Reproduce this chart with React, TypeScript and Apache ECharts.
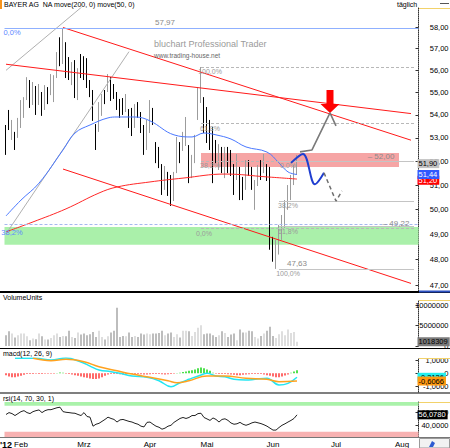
import React, { useEffect, useRef } from 'react';
import * as echarts from 'echarts';

const FONT = '"Liberation Sans", Arial, sans-serif';
const SLOTS = 138;
const categories: string[] = Array.from({ length: SLOTS }, (_, i) => String(i));
const monthStarts = [0, 5, 26, 48, 67, 89, 110, 132];
const monthNames = ["'12", 'Feb', 'Mrz', 'Apr', 'Mai', 'Jun', 'Jul', 'Aug'];

const priceTicks = [47, 48, 49, 50, 51, 52, 53, 54, 55, 56, 57, 58];
const volumeTicks = [0, 5000000, 10000000];
const macdTicks = [-1, 0, 1];
const rsiTicks = [40, 60];

// [open, close, low, high]
const candles: number[][] = [
  [53.43, 52.56, 52.27, 53.56], [54.09, 53.56, 53.34, 54.22], [53.04, 53.65, 52.91, 53.78], [53.13, 52.61, 52.48, 53.26],
  [53.26, 53.69, 53.0, 53.87], [53.56, 54.53, 53.43, 54.66], [54.0, 54.66, 53.87, 54.79], [54.79, 55.56, 54.66, 55.69],
  [55.42, 54.44, 54.31, 55.56], [54.57, 55.33, 54.44, 55.47], [55.11, 54.13, 54.0, 55.29], [54.57, 55.24, 54.44, 55.38],
  [54.88, 54.09, 53.96, 55.02], [54.31, 55.2, 54.22, 55.33], [55.11, 54.66, 54.48, 55.24], [55.02, 55.69, 54.88, 55.83],
  [54.66, 55.65, 54.57, 55.78], [55.78, 56.7, 55.65, 56.84], [57.39, 56.33, 56.19, 57.53], [56.38, 57.86, 56.29, 57.97],
  [57.16, 55.78, 55.65, 57.3], [56.38, 56.01, 55.56, 56.61], [55.47, 56.24, 55.33, 56.38], [56.24, 54.88, 54.75, 56.47],
  [54.79, 55.87, 54.66, 56.1], [56.61, 55.92, 55.65, 56.75], [56.47, 55.78, 55.56, 56.65], [56.38, 55.33, 55.2, 56.56],
  [55.42, 54.97, 54.79, 55.56], [54.97, 53.87, 53.74, 55.11], [53.43, 52.61, 52.48, 53.6], [53.43, 54.44, 53.26, 54.57],
  [54.13, 54.79, 53.96, 54.93], [54.97, 54.66, 54.48, 55.11], [55.24, 55.69, 55.02, 55.83], [55.56, 54.75, 54.62, 55.69],
  [55.24, 54.88, 54.71, 55.38], [54.88, 54.35, 54.22, 55.02], [54.57, 54.0, 53.87, 54.71], [54.53, 54.13, 54.0, 54.75],
  [54.31, 54.79, 54.13, 54.93], [54.13, 53.56, 53.43, 54.26], [54.13, 53.21, 53.08, 54.31], [53.56, 54.35, 53.43, 54.48],
  [54.44, 54.0, 53.87, 54.57], [54.0, 53.34, 53.21, 54.13], [53.43, 52.56, 52.27, 53.56], [52.69, 53.56, 52.48, 53.78],
  [53.34, 54.44, 53.21, 54.66], [54.13, 53.78, 53.56, 54.31], [52.69, 52.05, 51.92, 52.82], [52.48, 51.84, 51.71, 52.61],
  [51.76, 50.71, 50.59, 51.88], [50.92, 51.63, 50.8, 51.8], [51.42, 50.67, 50.55, 51.55], [51.29, 50.26, 50.14, 51.42],
  [50.46, 51.42, 50.34, 51.55], [51.63, 52.91, 51.5, 53.04], [52.69, 52.05, 51.92, 52.82], [52.56, 53.13, 52.44, 53.26],
  [52.78, 53.78, 52.65, 53.91], [52.56, 51.29, 51.08, 52.69], [51.42, 52.14, 51.29, 52.27], [52.05, 53.0, 51.92, 53.13],
  [53.91, 55.11, 53.78, 55.24], [54.66, 55.87, 54.53, 56.15], [54.66, 53.34, 53.21, 54.79], [54.22, 52.91, 52.78, 54.35],
  [53.65, 52.61, 52.48, 53.78], [53.34, 51.21, 51.08, 53.47], [52.78, 52.05, 51.92, 52.91], [51.76, 52.61, 51.63, 52.73],
  [52.48, 51.63, 51.5, 52.61], [51.42, 52.48, 51.29, 52.61], [52.48, 51.63, 51.5, 52.61], [52.35, 51.5, 51.38, 52.48],
  [51.76, 50.71, 50.59, 51.88], [51.34, 52.18, 51.21, 52.31], [51.63, 50.51, 50.38, 51.76], [51.21, 50.51, 50.38, 51.34],
  [51.0, 51.84, 50.8, 52.05], [51.92, 51.5, 51.38, 52.05], [51.63, 50.92, 50.8, 51.76], [50.1, 51.08, 49.98, 51.21],
  [51.08, 51.71, 50.96, 51.84], [51.92, 51.34, 51.21, 52.05], [51.63, 52.18, 51.5, 52.31], [51.76, 51.29, 51.17, 51.88],
  [51.63, 48.58, 48.38, 51.76], [48.69, 48.19, 47.91, 48.89], [48.19, 48.58, 47.63, 48.77], [48.38, 48.97, 48.19, 49.37],
  [48.85, 49.49, 48.77, 49.77], [49.37, 50.18, 49.25, 50.38], [50.18, 50.8, 49.98, 51.0], [50.59, 51.21, 50.38, 51.42],
  [51.13, 51.63, 51.0, 51.84], [51.55, 51.9, 51.42, 52.27],
];

const volumes = [
  2620000, 3610000, 3030000, 2050000, 2620000, 3030000, 3030000, 2380000, 1390000, 1800000,
  1640000, 3030000, 2380000, 1560000, 1560000, 1970000, 2620000, 3030000, 2210000, 2460000,
  2380000, 3690000, 2210000, 1970000, 3280000, 2790000, 3030000, 2620000, 2870000, 3440000,
  2210000, 3690000, 2210000, 1560000, 2380000, 3280000, 3690000, 9340000, 2210000, 2460000,
  2380000, 3280000, 2210000, 2460000, 2210000, 3030000, 2790000, 3030000, 2870000, 3030000,
  3030000, 3200000, 3690000, 2620000, 3030000, 3280000, 2210000, 2870000, 2050000, 3690000,
  3690000, 3610000, 2460000, 3440000, 4430000, 5080000, 2870000, 3030000, 3030000, 2620000,
  2210000, 2620000, 3610000, 3200000, 2210000, 2790000, 3030000, 1390000, 4020000, 3280000,
  3280000, 3690000, 3610000, 2210000, 1800000, 2460000, 3030000, 3690000, 4670000, 2460000,
  1970000, 2870000, 3610000, 2620000, 4020000, 3200000, 3440000, 1018309,
];

const ma50: number[][] = [
  [0, 49.73], [5, 50.38], [11, 51.08], [19, 52.48], [23, 53.21], [28, 53.56], [34, 53.87], [37, 53.91],
  [43, 53.91], [48, 53.74], [56, 53.13], [62, 53.04], [66, 53.21], [70, 53.13], [75, 52.95], [80, 52.61],
  [87, 52.39], [91, 51.93], [94, 51.55], [97, 51.44],
];
const ma200: number[][] = [
  [0, 49.09], [9, 49.49], [20, 50.02], [31, 50.67], [37, 50.92], [48, 51.13], [59, 51.29], [73, 51.46],
  [87, 51.34], [97, 51.25],
];
const trendUpper: number[][] = [[19, 57.99], [135, 52.9]];
const trendLower: number[][] = [[19, 51.67], [135, 47.07]];
const trendFlat: number[][] = [[0, 56.28], [135, 54.06]];
const fanA: number[][] = [[0, 56.0], [26, 59.06]];
const fanB: number[][] = [[0, 49.01], [41, 56.86]];
const projBlue: number[][] = [[95, 51.93], [99, 52.31], [103, 51.03], [106, 51.51]];
const projGrayDash: number[][] = [[106, 51.51], [110, 50.34], [112, 50.76]];
const projGrayUp: number[][] = [[98, 52.4], [102, 52.48], [108, 54.09], [110, 53.52]];

const macdLine: number[][] = [
  [3, 1.18], [10, 1.18], [15, 1.05], [20, 1.2], [25, 0.89], [28, 0.57], [31, 0.26], [35, 0.13], [38, 0],
  [42, -0.21], [47, -0.31], [51, -0.58], [55, -1.06], [58, -0.74], [61, -0.47], [65, -0.13], [67, 0],
  [70, -0.21], [73, -0.27], [76, -0.47], [80, -0.53], [83, -0.47], [87, -0.39], [91, -0.92], [94, -0.79],
  [97, -0.31],
];
const signalLine: number[][] = [
  [9, 1.18], [15, 0.99], [20, 1.1], [26, 0.91], [31, 0.52], [37, 0.2], [42, -0.06], [48, -0.31],
  [54, -0.58], [57, -0.74], [61, -0.58], [67, -0.21], [73, -0.21], [80, -0.39], [87, -0.47], [91, -0.66],
  [97, -0.61],
];
const macdHist = [
  -0.15, -0.25, -0.3, -0.3, -0.25, -0.2, -0.12, -0.06, -0.05, -0.05, -0.04, -0.05, -0.05, -0.04, -0.04, -0.03,
  -0.03, 0.03, 0.06, 0.05, -0.03, -0.05, -0.1, -0.15, -0.2, -0.25, -0.3, -0.35, -0.4, -0.45, -0.45, -0.4,
  -0.3, -0.2, -0.1, -0.06,
  -0.05, -0.06, -0.08, -0.1, -0.08, -0.06, -0.05, -0.05, -0.06, -0.08, -0.1, -0.1, -0.08, -0.06, -0.05, -0.06,
  -0.08, -0.1, -0.08, -0.05, -0.03,
  0.02, 0.05, 0.1, 0.15, 0.2, 0.25, 0.3, 0.4, 0.45, 0.4, 0.3, 0.2, 0.05, -0.04, -0.05, -0.05,
  -0.06, -0.08, -0.1, -0.12, -0.15, -0.15, -0.12, -0.1, -0.08, -0.06, -0.05, -0.05, -0.06,
  -0.1, -0.15, -0.2, -0.25, -0.3, -0.3, -0.25, -0.18, -0.1, 0.05, 0.15, 0.25,
];
const rsi = [
  56.6, 59.5, 58, 55, 58, 61, 62.5, 59.5, 58, 61, 62.5, 63.6, 59.5, 62.5, 64, 64, 65.5, 67, 67.8, 61,
  60, 59.5, 58.8, 58.5, 56.6, 55, 59.5, 53.5, 52.5, 38.6, 41.6, 43, 46, 49, 52.5, 50.5, 49, 45, 48.3, 49,
  47.5, 46, 45, 43, 41.6, 38.6, 37.5, 44.5, 45, 41.6, 38.6, 37, 34, 35.6, 38.6, 40, 44.5, 47.5, 50.5, 52,
  50.5, 52, 55, 55, 58, 58.5, 52, 49.8, 47.5, 51.3, 49, 45, 49, 50, 47.5, 43.5, 41.6, 42.3, 44.5, 41.6,
  40, 41.6, 43.8, 45, 43.8, 42.6, 40.8, 38.6, 35.6, 32.6, 32.6, 36.6, 40, 42.3, 45, 47.5, 50.5, 56.08,
];

// Fibonacci / horizontal levels
const fibTopLevel = 57.97;
const fibBlue382 = 49.28;
const fib2Levels = [56.15, 53.62, 52.0, 49.22];
const fib2Labels = ['100,0%', '61,8%', '38,2%', '0,0%'];
const fib3Levels = [52.0, 50.33, 49.3, 47.63];
const fib3Labels = ['0,0%', '38,2%', '61,8%', '100,0%'];
const pinkZone = [52.35, 51.76];
const greenZone = [49.29, 48.58];
const lastClose = 51.9;
const lastMa50 = 51.44;
const lastMa200 = 51.2;
const lastVolume = 1018309;
const lastMacd = -0.3136;
const lastSignal = -0.6066;
const lastRsi = 56.078;

const L = (v: number) => Math.log(v);
const comma = (v: number, d: number) => v.toFixed(d).replace('.', ',');
const lp = (pts: number[][]) => pts.map(([i, v]) => [i, L(v)]);

const textLabel = (coord: number[], text: string, position: string, color = '#9a9a9a', size = 7) => ({
  coord,
  symbol: 'circle',
  symbolSize: 0,
  itemStyle: { color: 'rgba(0,0,0,0)' },
  label: { show: true, formatter: text, position, distance: 1, color, fontSize: size, fontFamily: FONT },
});
const tag = (coord: number[], text: string, bg: string, color: string) => ({
  coord,
  symbol: 'circle',
  symbolSize: 0,
  itemStyle: { color: 'rgba(0,0,0,0)' },
  label: {
    show: true, formatter: text, position: 'right', distance: 0.5, color, backgroundColor: bg,
    padding: [1, 2, 0, 1], fontSize: 7.5, fontFamily: FONT,
  },
});

function buildOption(): any {
  const gridLeft = 4.5;
  const gridWidth = 414;
  const grids = [
    { left: gridLeft, width: gridWidth, top: 8, height: 283 },
    { left: gridLeft, width: gridWidth, top: 300, height: 46 },
    { left: gridLeft, width: gridWidth, top: 358, height: 34 },
    { left: gridLeft, width: gridWidth, top: 402, height: 35 },
  ].map((g) => ({ ...g, outerBoundsMode: 'none', containLabel: false }));

  const xAxes = [0, 1, 2, 3].map((g) => ({
    type: 'category', gridIndex: g, data: categories, boundaryGap: true,
    axisLine: { show: false }, axisTick: { show: false }, splitLine: { show: false },
    axisLabel: g === 3
      ? {
          show: true, interval: (idx: number) => monthStarts.includes(idx), margin: 3,
          fontSize: 8, color: '#000', fontFamily: FONT,
          formatter: (_v: string, idx: number) => {
            const k = monthStarts.indexOf(idx);
            return k === 0 ? '{b|' + monthNames[0] + '}' : monthNames[k];
          },
          rich: { b: { fontWeight: 'bold', fontSize: 9, fontFamily: FONT, color: '#000' } },
        }
      : { show: false },
  }));

  const yBase = (g: number, min: number, max: number, ticks: number[], fmt: (v: number) => string) => ({
    type: 'value', gridIndex: g, position: 'right', min, max,
    axisLine: { show: true, onZero: false, lineStyle: { color: '#333', type: 'dotted', width: 1 } },
    axisTick: { show: true, inside: true, length: 3, customValues: ticks, lineStyle: { color: '#333' } },
    splitLine: { show: false },
    axisLabel: {
      show: true, customValues: ticks, formatter: fmt, align: 'right', margin: 30,
      fontSize: 7.5, color: '#000', fontFamily: FONT,
    },
  });

  const yAxes = [
    yBase(0, L(46.78), L(58.92), priceTicks.map(L), (v) => comma(Math.exp(v), 2)),
    yBase(1, 0, 11220000, volumeTicks, (v) => String(Math.round(v))),
    yBase(2, -1.47, 1.205, macdTicks, (v) => (Math.abs(v) < 1e-9 ? '0' : comma(v, 4))),
    yBase(3, 22, 75.8, rsiTicks, (v) => comma(v, 4)),
  ];

  const seg = (from: number, to: number, level: number, style: any) => [
    { coord: [from, L(level)], lineStyle: style },
    { coord: [to, L(level)] },
  ];
  const grayDash = { color: '#b8b8b8', type: [3, 2], width: 1 };
  const graySolid = { color: '#c4c4c4', type: 'solid', width: 1 };

  const plainLine = (name: string, pts: number[][], color: string, width: number, extra: any = {}) => ({
    name, type: 'line', xAxisIndex: 0, yAxisIndex: 0, data: lp(pts), showSymbol: false, symbol: 'none',
    silent: true, lineStyle: { color, width, ...(extra.lineStyle || {}) }, z: extra.z ?? 4,
    smooth: extra.smooth ?? false, clip: true,
  });

  const series: any[] = [
    {
      name: 'zones', type: 'line', xAxisIndex: 0, yAxisIndex: 0, data: [], z: 1, silent: true,
      markArea: {
        silent: true,
        data: [
          [{ coord: [65, L(pinkZone[0])], itemStyle: { color: 'rgba(240,105,105,0.6)' } }, { coord: [131, L(pinkZone[1])] }],
          [{ yAxis: L(greenZone[0]), itemStyle: { color: '#aaf0aa' } }, { yAxis: L(greenZone[1]) }],
        ],
      },
      markLine: {
        silent: true, symbol: ['none', 'none'], label: { show: false },
        data: [
          { yAxis: L(fibTopLevel), lineStyle: { color: '#8fb0ff', type: 'solid', width: 1 } },
          { yAxis: L(fibBlue382), lineStyle: { color: '#a6b8ee', type: [3, 2], width: 1 } },
          ...fib2Levels.map((lv) => seg(65, 136, lv, grayDash)),
          ...fib3Levels.map((lv) => seg(91, 136, lv, graySolid)),
        ],
      },
      markPoint: {
        silent: true,
        data: [
          textLabel([53, L(fibTopLevel)], '57,97', 'top', '#8a8a8a', 8),
          textLabel([2, L(fibTopLevel)], '0,0%', 'bottom', '#6088ff', 7.5),
          textLabel([2, L(fibBlue382)], '38,2%', 'bottom', '#6088ff', 7.5),
          ...fib2Levels.map((lv, k) => textLabel([k === 3 ? 66 : 68, L(lv)], fib2Labels[k], 'bottom')),
          ...fib3Levels.map((lv, k) => textLabel([94, L(lv)], fib3Labels[k], 'bottom')),
          textLabel([97, L(47.63)], '47,63', 'top', '#8a8a8a', 8),
          textLabel([125, L(52.0)], '\u2013 52,00', 'top', '#8a8a8a', 8),
          textLabel([130, L(49.22)], '\u2013 49,22', 'top', '#8a8a8a', 8),
        ],
      },
    },
    {
      name: 'BAYER AG', type: 'candlestick', xAxisIndex: 0, yAxisIndex: 0, z: 3, silent: true,
      barWidth: 1,
      data: candles.map(([o, c, l, h]) => [L(o), L(c), L(l), L(h)]),
      itemStyle: { color: '#9c9c9c', color0: '#000', borderColor: '#9c9c9c', borderColor0: '#000', borderWidth: 1 },
    },
    plainLine('fanA', fanA, '#b0b0b0', 1),
    plainLine('fanB', fanB, '#b0b0b0', 1),
    plainLine('move(50)', ma50, '#4a78ff', 1, { smooth: 0.4 }),
    plainLine('move(200)', ma200, '#ff2828', 1, { smooth: 0.4 }),
    plainLine('trendUpper', trendUpper, '#ff1a1a', 1),
    plainLine('trendLower', trendLower, '#ff1a1a', 1),
    plainLine('trendFlat', trendFlat, '#ff1a1a', 1),
    plainLine('projBlue', projBlue, '#1f3ed0', 2, { smooth: 0.35, z: 6 }),
    plainLine('projGrayDash', projGrayDash, '#707070', 1.5, { lineStyle: { type: [4, 3] }, z: 6 }),
    {
      ...plainLine('projGrayUp', projGrayUp, '#7a7a7a', 1.6, { z: 6 }),
      markPoint: {
        silent: true,
        data: [
          {
            coord: [108, L(54.09)],
            symbol: 'path://M6,0L13,0L13,14L19,14L9.5,23L0,14L6,14Z',
            symbolSize: [19, 23], symbolKeepAspect: false, symbolOffset: [0, -11.5],
            itemStyle: { color: '#ff0000' }, label: { show: false },
          },
        ],
      },
    },
    {
      name: 'priceTags', type: 'line', xAxisIndex: 0, yAxisIndex: 0, data: [], z: 20, clip: false, silent: true,
      markPoint: {
        silent: true,
        data: [
          tag([137, L(lastMa200)], comma(lastMa200, 2), '#ff0000', '#fff'),
          tag([137, L(lastMa50)], comma(lastMa50, 2), '#3158ff', '#fff'),
          tag([137, L(lastClose)], comma(lastClose, 2), '#c2c2c2', '#000'),
        ],
      },
    },
    {
      name: 'VolumeUnits', type: 'bar', xAxisIndex: 1, yAxisIndex: 1, barWidth: 1, silent: true,
      data: volumes.map((v, i) => ({
        value: v,
        itemStyle: { color: candles[i][1] >= candles[i][0] ? '#bdbdbd' : '#7c7c7c' },
      })),
      markPoint: {
        silent: true,
        data: [tag([137, lastVolume], String(lastVolume), '#7a7a7a', '#000')],
      },
    },
    {
      name: 'macdHist', type: 'bar', xAxisIndex: 2, yAxisIndex: 2, barWidth: 2, silent: true,
      data: macdHist.map((v) => ({ value: v, itemStyle: { color: v >= 0 ? '#4ee04e' : '#ff6a6a' } })),
    },
    {
      name: 'macd', type: 'line', xAxisIndex: 2, yAxisIndex: 2, data: macdLine, showSymbol: false, symbol: 'none',
      smooth: 0.4, silent: true, lineStyle: { color: '#22e6f2', width: 1.5 }, z: 4,
    },
    {
      name: 'signal', type: 'line', xAxisIndex: 2, yAxisIndex: 2, data: signalLine, showSymbol: false, symbol: 'none',
      smooth: 0.4, silent: true, lineStyle: { color: '#ffa21f', width: 1.5 }, z: 4,
      markPoint: {
        silent: true,
        data: [
          tag([137, lastMacd], comma(lastMacd, 4), '#22f0f0', '#000'),
          tag([137, lastSignal], comma(lastSignal, 4), '#ff9a10', '#000'),
        ],
      },
    },
    {
      name: 'rsiZones', type: 'line', xAxisIndex: 3, yAxisIndex: 3, data: [], z: 1, silent: true,
      markArea: {
        silent: true,
        data: [
          [{ yAxis: 70, itemStyle: { color: '#aaf2aa' } }, { yAxis: 75.8 }],
          [{ yAxis: 22, itemStyle: { color: '#f8b2b2' } }, { yAxis: 30 }],
        ],
      },
    },
    {
      name: 'rsi', type: 'line', xAxisIndex: 3, yAxisIndex: 3, data: rsi, showSymbol: false, symbol: 'none',
      silent: true, lineStyle: { color: '#222', width: 1 }, z: 4,
      markPoint: { silent: true, data: [tag([137, lastRsi], comma(lastRsi, 4), '#000', '#fff')] },
    },
  ];

  const txt = (x: number, y: number, text: string, size: number, fill = '#000', extra: any = {}) => ({
    type: 'text', x, y, silent: true, z: 50,
    style: { text, fontSize: size, fontFamily: FONT, fill, verticalAlign: 'top', align: 'left', ...extra },
  });
  const hline = (x1: number, x2: number, y: number, stroke: string, lineWidth: number) => ({
    type: 'line', silent: true, z: 40, shape: { x1, y1: y, x2, y2: y }, style: { stroke, lineWidth },
  });

  const graphic = [
    { type: 'rect', silent: true, z: 50, shape: { x: 0, y: 0, width: 2, height: 9 }, style: { fill: '#f7941d' } },
    txt(4, 1, 'BAYER AG  NA move(200, 0) move(50, 0)', 7),
    txt(397, 1, 'täglich', 7),
    hline(440, 449, 3.5, '#555', 1),
    txt(154, 39, 'bluchart Professional Trader', 9, '#9a9a9a'),
    txt(154, 52, 'www.trading-house.net', 6.5, '#666'),
    txt(3, 294, 'VolumeUnits', 7),
    txt(3, 350, 'macd(12, 26, 9)', 7),
    txt(3, 395, 'rsi(14, 70, 30, 1)', 7),
    hline(0, 450, 292, '#000', 2),
    hline(419, 450, 291.5, '#2a4fc0', 2),
    hline(0, 450, 348.5, '#000', 1.2),
    hline(0, 450, 393, '#000', 1.2),
    hline(0, 450, 437.5, '#777', 1),
    hline(419, 450, 8.5, '#f2d26a', 1),
    hline(419, 450, 300.5, '#f2d26a', 1),
    hline(419, 450, 358.5, '#f2d26a', 1),
    hline(419, 450, 402.5, '#f2d26a', 1),
    {
      type: 'rect', silent: true, z: 40, shape: { x: 419.5, y: 438.5, width: 30, height: 9.5 },
      style: { fill: '#f2f2f2', stroke: '#9a9a9a', lineWidth: 1 },
    },
    {
      type: 'polygon', silent: true, z: 41, shape: { points: [[429, 447], [432, 441], [435, 443], [433, 447]] },
      style: { fill: '#2d5bd1' },
    },
  ];

  return {
    animation: false,
    backgroundColor: '#fff',
    textStyle: { fontFamily: FONT },
    grid: grids,
    xAxis: xAxes,
    yAxis: yAxes,
    series,
    graphic,
  };
}

export default function App() {
  const ref = useRef<HTMLDivElement>(null);
  useEffect(() => {
    if (!ref.current) return;
    const chart = echarts.init(ref.current, undefined, { renderer: 'svg' });
    chart.setOption(buildOption());
    return () => chart.dispose();
  }, []);
  return (
    <div
      ref={ref}
      style={{ position: 'fixed', left: 0, top: 0, width: 450, height: 448, background: '#fff' }}
    />
  );
}
